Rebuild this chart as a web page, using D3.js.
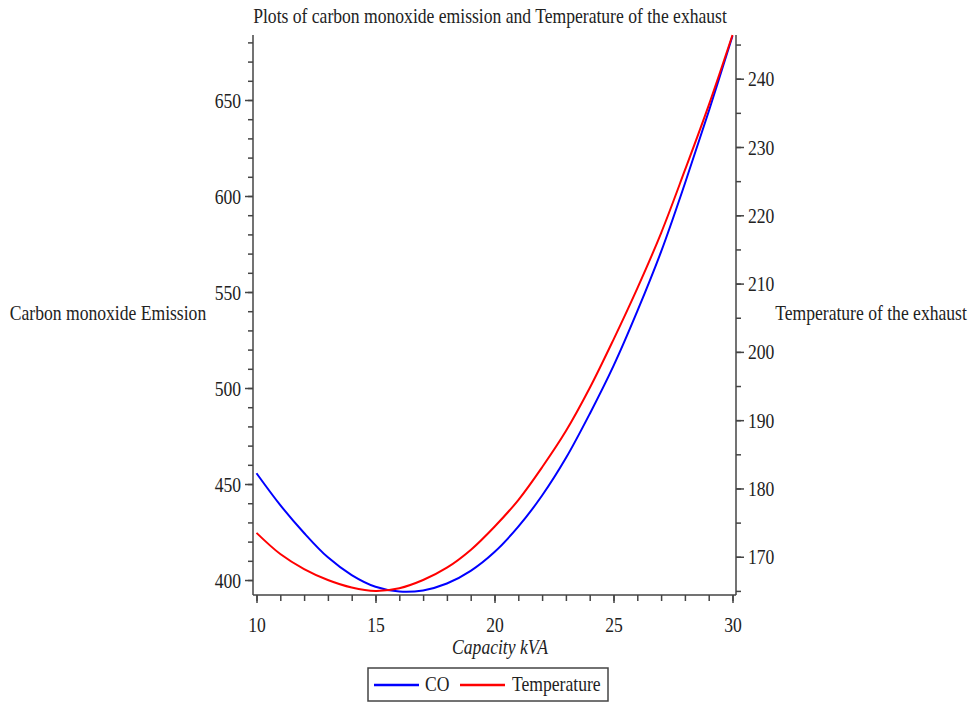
<!DOCTYPE html>
<html>
<head>
<meta charset="utf-8">
<script src="https://cdn.jsdelivr.net/npm/d3@7"></script>
<style>
  html, body { margin: 0; padding: 0; background: #fff; }
  svg { display: block; }
  text { font-family: "Liberation Serif", "Times New Roman", serif; fill: #222; }
</style>
</head>
<body>
<svg id="chart" width="972" height="702"></svg>
<script>
// Capacity (kVA) and the two measured responses
const capacity = [10, 11, 12, 13, 14, 15, 16, 17, 18, 19, 20, 21, 22, 23, 24, 25, 26, 27, 28, 29, 30];
const co = [455.6, 439.0, 424.5, 411.8, 402.6, 396.5, 394.0, 394.6, 398.2, 404.8, 414.6,
            427.8, 444.0, 463.5, 486.5, 511.5, 540.0, 571.0, 606.5, 644.0, 683.3];
const temperature = [173.5, 170.4, 168.2, 166.6, 165.5, 165.0, 165.4, 166.6, 168.4, 171.0, 174.4,
                     178.3, 183.1, 188.4, 194.7, 201.8, 209.3, 217.4, 226.6, 236.1, 246.4];

// Tick values
const xMajorTicks = [10, 15, 20, 25, 30];
const xMinorTicks = d3.range(10, 31, 1);
const coMajorTicks = [400, 450, 500, 550, 600, 650];
const coMinorTicks = d3.range(400, 681, 10);
const tempMajorTicks = [170, 180, 190, 200, 210, 220, 230, 240];
const tempMinorTicks = d3.range(165, 246, 5);

// Labels
const titleText = "Plots of carbon monoxide emission and Temperature of the exhaust";
const xLabel = "Capacity kVA";
const leftLabel = "Carbon monoxide Emission";
const rightLabel = "Temperature of the exhaust";
const seriesNames = ["CO", "Temperature"];
const seriesColors = ["#0000ff", "#ff0000"];

const FONT = 17.6;
const STRETCH = 1.25;   // tall, narrow lettering
const AXIS_COLOR = "#444";

const svg = d3.select("#chart");

const plot = { left: 253, right: 736, top: 35, bottom: 595 };
const x = d3.scaleLinear().domain([10, 30]).range([256.5, 732.5]);
const yL = d3.scaleLinear().domain([392.2, 683.85]).range([plot.bottom, plot.top]);
const yR = d3.scaleLinear().domain([164.4, 246.4]).range([plot.bottom, plot.top]);

function label(txt, px, py, anchor, opts = {}) {
  const t = svg.append("text")
    .attr("transform", `translate(${px},${py}) scale(1,${STRETCH})`)
    .attr("text-anchor", anchor)
    .style("font-size", (opts.size || FONT) + "px")
    .text(txt);
  if (opts.italic) t.style("font-style", "italic");
  return t;
}

function styleAxis(g) {
  g.select(".domain").remove();
  g.selectAll(".tick line").attr("stroke", AXIS_COLOR).attr("stroke-width", 1.5);
  g.selectAll(".tick text")
    .style("font-size", FONT + "px")
    .style("font-family", '"Liberation Serif", "Times New Roman", serif')
    .attr("fill", "#222");
}

// Minor ticks
svg.append("g").attr("transform", `translate(0,${plot.bottom})`)
  .call(d3.axisBottom(x).tickValues(xMinorTicks).tickSize(6).tickFormat(""))
  .call(styleAxis);
svg.append("g").attr("transform", `translate(${plot.left},0)`)
  .call(d3.axisLeft(yL).tickValues(coMinorTicks).tickSize(5).tickFormat(""))
  .call(styleAxis);
svg.append("g").attr("transform", `translate(${plot.right},0)`)
  .call(d3.axisRight(yR).tickValues(tempMinorTicks).tickSize(5).tickFormat(""))
  .call(styleAxis);

// Major ticks with labels
const gx = svg.append("g").attr("transform", `translate(0,${plot.bottom})`)
  .call(d3.axisBottom(x).tickValues(xMajorTicks).tickSize(8).tickPadding(9).tickFormat(d3.format("d")))
  .call(styleAxis);
gx.selectAll(".tick text").attr("transform", `scale(1,${STRETCH})`);

const gl = svg.append("g").attr("transform", `translate(${plot.left},0)`)
  .call(d3.axisLeft(yL).tickValues(coMajorTicks).tickSize(8).tickPadding(4).tickFormat(d3.format("d")))
  .call(styleAxis);
gl.selectAll(".tick text").attr("transform", `scale(1,${STRETCH})`);

const gr = svg.append("g").attr("transform", `translate(${plot.right},0)`)
  .call(d3.axisRight(yR).tickValues(tempMajorTicks).tickSize(8).tickPadding(4).tickFormat(d3.format("d")))
  .call(styleAxis);
gr.selectAll(".tick text").attr("transform", `scale(1,${STRETCH})`);

// Axis lines
svg.append("line").attr("x1", plot.left).attr("x2", plot.right)
  .attr("y1", plot.bottom).attr("y2", plot.bottom)
  .attr("stroke", AXIS_COLOR).attr("stroke-width", 1.5);
svg.append("line").attr("x1", plot.left).attr("x2", plot.left)
  .attr("y1", plot.top).attr("y2", plot.bottom)
  .attr("stroke", AXIS_COLOR).attr("stroke-width", 1.5);
svg.append("line").attr("x1", plot.right).attr("x2", plot.right)
  .attr("y1", plot.top).attr("y2", plot.bottom)
  .attr("stroke", AXIS_COLOR).attr("stroke-width", 1.5);

// Curves
const coLine = d3.line().x((d, i) => x(capacity[i])).y(d => yL(d)).curve(d3.curveCatmullRom);
const tLine = d3.line().x((d, i) => x(capacity[i])).y(d => yR(d)).curve(d3.curveCatmullRom);

svg.append("path").datum(co).attr("d", coLine)
  .attr("fill", "none").attr("stroke", seriesColors[0]).attr("stroke-width", 2);
svg.append("path").datum(temperature).attr("d", tLine)
  .attr("fill", "none").attr("stroke", seriesColors[1]).attr("stroke-width", 2);

// Titles and axis labels
label(titleText, 490, 23, "middle");
label(leftLabel, 108, 320, "middle");
label(rightLabel, 871, 320, "middle");
label(xLabel, 500, 654, "middle", { italic: true });

// Legend
svg.append("rect").attr("x", 368).attr("y", 668).attr("width", 240).attr("height", 33)
  .attr("fill", "#fff").attr("stroke", AXIS_COLOR).attr("stroke-width", 1.5);
const legendItems = [
  { name: seriesNames[0], color: seriesColors[0], x0: 374, x1: 419, tx: 425 },
  { name: seriesNames[1], color: seriesColors[1], x0: 460, x1: 505, tx: 512 }
];
legendItems.forEach(it => {
  svg.append("line").attr("x1", it.x0).attr("x2", it.x1).attr("y1", 685).attr("y2", 685)
    .attr("stroke", it.color).attr("stroke-width", 2.5);
  label(it.name, it.tx, 691, "start");
});
</script>
</body>
</html>
